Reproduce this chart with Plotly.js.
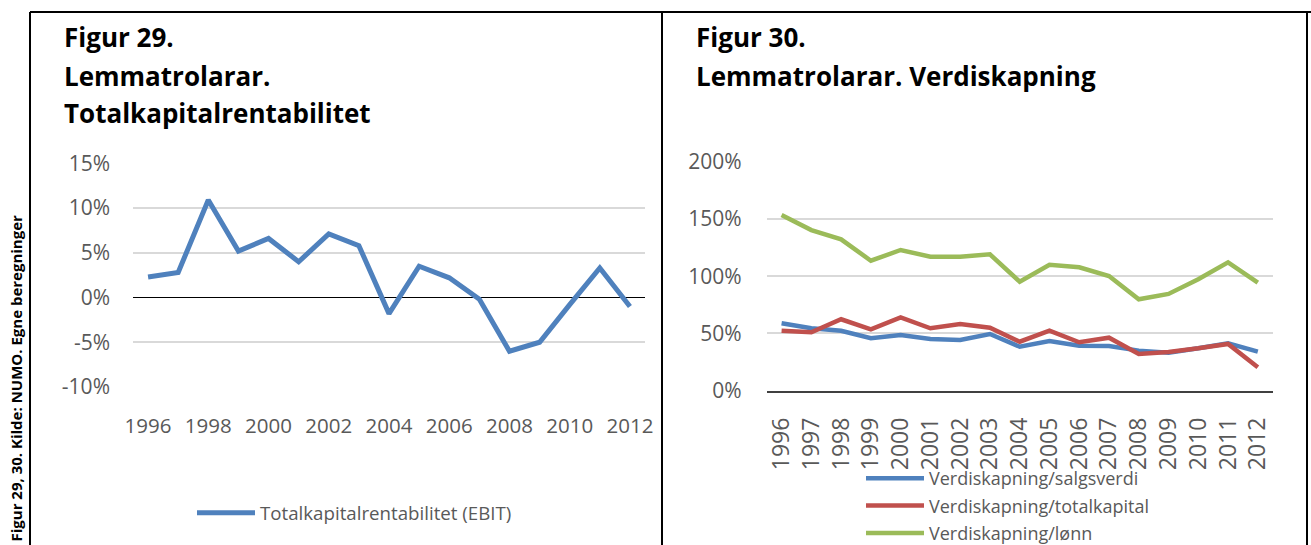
<!DOCTYPE html>
<html>
<head>
<meta charset="utf-8">
<script src="https://cdn.plot.ly/plotly-3.0.1.min.js"></script>
<style>html,body{margin:0;padding:0;background:#fff;}#chart{width:1311px;height:545px;}</style>
</head>
<body>
<div id="chart"></div>
<script>
// Figur 29 data
const years29 = [1996,1997,1998,1999,2000,2001,2002,2003,2004,2005,2006,2007,2008,2009,2010,2011,2012];
const totalkapitalrentabilitet = [2.3,2.8,10.9,5.2,6.6,4.0,7.1,5.8,-1.8,3.5,2.2,-0.2,-6.0,-5.0,-0.8,3.3,-1.0];
const yTickVals29 = [-10,-5,0,5,10,15];
const yTickText29 = ['-10%','-5%','0%','5%','10%','15%'];
const xTickVals29 = [1996,1998,2000,2002,2004,2006,2008,2010,2012];

// Figur 30 data
const years30 = ['1996','1997','1998','1999','2000','2001','2002','2003','2004','2005','2006','2007','2008','2009','2010','2011','2012'];
const salgsverdi = [58.9,54.5,52.4,45.8,48.6,45.2,44.3,49.5,38.4,43.4,39.3,39.0,35.0,33.2,37.0,41.4,34.1];
const totalkapital = [52.4,51.0,62.4,53.6,64.1,54.5,58.3,55.0,42.8,52.4,42.3,46.3,32.0,33.8,37.0,40.8,20.4];
const lonn = [153.4,140.3,132.2,113.5,122.9,117.0,117.0,119.1,95.2,110.0,107.8,100.2,79.8,84.5,97.3,112.1,94.3];

const W = 1311, H = 545;
const px = v => v / W;
const py = v => 1 - v / H;

const FONT = '"Open Sans", Lato, sans-serif';
const TICKC = '#595959';
const GRID = '#d9d9d9';

const traces = [
  {x: years29, y: totalkapitalrentabilitet, type: 'scatter', mode: 'lines', name: 'Totalkapitalrentabilitet (EBIT)',
   line: {color: '#4f81bd', width: 5}, xaxis: 'x', yaxis: 'y', legend: 'legend'},
  {x: years30, y: salgsverdi, type: 'scatter', mode: 'lines', name: 'Verdiskapning/salgsverdi',
   line: {color: '#4f81bd', width: 4.5}, xaxis: 'x2', yaxis: 'y2', legend: 'legend2', legendgroup: 'a'},
  {x: years30, y: totalkapital, type: 'scatter', mode: 'lines', name: 'Verdiskapning/totalkapital',
   line: {color: '#c0504d', width: 4.5}, xaxis: 'x2', yaxis: 'y2', legend: 'legend2', legendgroup: 'b'},
  {x: years30, y: lonn, type: 'scatter', mode: 'lines', name: 'Verdiskapning/lønn',
   line: {color: '#9bbb59', width: 4.5}, xaxis: 'x2', yaxis: 'y2', legend: 'legend2', legendgroup: 'c'}
];

const titleFont = {family: FONT, size: 26, color: '#000'};
function title(text, x, y) {
  return {text: '<b>' + text + '</b>', xref: 'paper', yref: 'paper', x: px(x), y: py(y),
          xanchor: 'left', yanchor: 'middle', showarrow: false, font: titleFont};
}

const layout = {
  width: W, height: H,
  margin: {l: 0, r: 0, t: 0, b: 0, autoexpand: false},
  paper_bgcolor: '#fff', plot_bgcolor: '#fff',
  font: {family: FONT, color: TICKC, size: 20},
  xaxis: {domain: [px(133), px(645)], range: [1995.5, 2012.5], tickvals: xTickVals29,
          showgrid: false, zeroline: false, showline: false, ticks: '',
          tickfont: {size: 20.5, color: TICKC}, ticklabelstandoff: 24, anchor: 'y'},
  yaxis: {domain: [py(387), py(163.3)], range: [-10, 15], tickvals: yTickVals29, ticktext: yTickText29,
          showgrid: true, gridcolor: GRID, gridwidth: 1.5, zeroline: true, zerolinecolor: '#000', zerolinewidth: 1.2,
          showline: false, ticks: '', tickfont: {size: 21, color: TICKC}, ticklabelstandoff: 22, anchor: 'x'},
  xaxis2: {domain: [px(766.7), px(1272.7)], type: 'category', range: [-0.5, 16.5],
          showgrid: false, zeroline: false, showline: true, linecolor: '#404040', linewidth: 1.5, ticks: '',
          tickangle: -90, tickfont: {size: 23, color: TICKC}, ticklabelstandoff: 16, anchor: 'y2'},
  yaxis2: {domain: [py(390.7), py(161.7)], range: [0, 200], dtick: 50, ticksuffix: '%',
          showgrid: true, gridcolor: GRID, gridwidth: 1.5, zeroline: false, showline: false, ticks: '',
          tickfont: {size: 21, color: TICKC}, ticklabelstandoff: 24, anchor: 'x2'},
  showlegend: true,
  legend: {x: px(192), y: py(513), xanchor: 'left', yanchor: 'middle', orientation: 'v',
           font: {family: FONT, size: 18.7, color: TICKC}, itemwidth: 58, bgcolor: 'rgba(0,0,0,0)'},
  legend2: {x: px(861), y: py(460), xanchor: 'left', yanchor: 'top', orientation: 'v',
           font: {family: FONT, size: 18, color: TICKC}, itemwidth: 58, tracegroupgap: 1, bgcolor: 'rgba(0,0,0,0)'},
  annotations: [
    title('Figur 29.', 62, 37),
    title('Lemmatrolarar.', 62, 76),
    title('Totalkapitalrentabilitet', 62, 113),
    title('Figur 30.', 694, 37),
    title('Lemmatrolarar. Verdiskapning', 694, 76),
    {text: '<b>Figur 29, 30. Kilde: NUMO. Egne beregninger</b>', xref: 'paper', yref: 'paper',
     x: px(15), y: py(544), xanchor: 'center', yanchor: 'bottom', textangle: -90, showarrow: false,
     font: {family: FONT, size: 15, color: '#000'}}
  ],
  shapes: [
    {type: 'line', xref: 'paper', yref: 'paper', x0: px(30), x1: 1, y0: py(12), y1: py(12), line: {color: '#000', width: 2}},
    {type: 'line', xref: 'paper', yref: 'paper', x0: px(30), x1: px(30), y0: py(12), y1: 0, line: {color: '#000', width: 2}},
    {type: 'line', xref: 'paper', yref: 'paper', x0: px(662), x1: px(662), y0: py(12), y1: 0, line: {color: '#000', width: 2}},
    {type: 'line', xref: 'paper', yref: 'paper', x0: px(1307), x1: px(1307), y0: py(12), y1: 0, line: {color: '#000', width: 2}}
  ]
};

Plotly.newPlot('chart', traces, layout, {displayModeBar: false, responsive: false});
</script>
</body>
</html>
